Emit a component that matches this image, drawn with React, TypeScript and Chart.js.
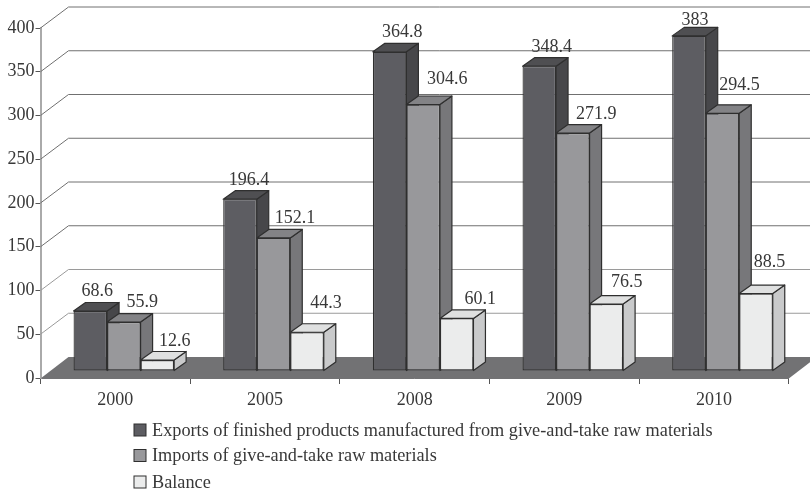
import React, { useEffect, useRef } from "react";
import { Chart, registerables } from "chart.js";

Chart.register(...registerables);

const years = ["2000", "2005", "2008", "2009", "2010"];
const exportsValues = [68.6, 196.4, 364.8, 348.4, 383];
const importsValues = [55.9, 152.1, 304.6, 271.9, 294.5];
const balanceValues = [12.6, 44.3, 60.1, 76.5, 88.5];
const seriesLabels = [
  "Exports of finished products manufactured from give-and-take raw materials",
  "Imports of give-and-take raw materials",
  "Balance",
];
const valueLabels = [
  ["68.6", "196.4", "364.8", "348.4", "383"],
  ["55.9", "152.1", "304.6", "271.9", "294.5"],
  ["12.6", "44.3", "60.1", "76.5", "88.5"],
];

// label nudges relative to the bar top centre (layout, not data)
const labelDx = [
  [7, 9, 12.5, 12.5, 6],
  [18.5, 21.5, 24, 23.5, 17],
  [17.5, 19, 23.5, 20.5, 13.5],
];
const labelDy = [
  [-15, -14, -15, -14.5, -11],
  [-15.5, -15, -20.5, -14, -23],
  [-14, -24, -14.5, -17.5, -27],
];

const FONT = '"Liberation Serif", serif';
const TEXT = "#383838";
const STROKE = "#2f2f2f";
const BAR_SHIFT = { x: 8.5, y: -7 };
const BAR_DEPTH = { x: 12, y: -8.5 };
const WALL = { x: 28, y: -21 };
const FILL = [
  { front: "#5d5d62", side: "#47474a", top: "#4f4f52" },
  { front: "#98989b", side: "#77777a", top: "#838386" },
  { front: "#ebecec", side: "#c9cacb", top: "#dfe0e0" },
];

const scene3d = {
  id: "scene3d",
  beforeDatasetsDraw(chart: any) {
    const { ctx, scales, chartArea } = chart;
    const y = scales.y;
    ctx.save();
    y.ticks.forEach((t: any) => {
      if (t.value === 0) return;
      const py = y.getPixelForValue(t.value);
      ctx.beginPath();
      ctx.moveTo(chartArea.left, py);
      ctx.lineTo(chartArea.left + WALL.x, py + WALL.y);
      ctx.lineTo(chart.width, py + WALL.y);
      ctx.strokeStyle = t.value <= 100 ? "#9a9a9a" : "#707070";
      ctx.lineWidth = 1;
      ctx.stroke();
    });
    const b = y.getPixelForValue(0);
    ctx.beginPath();
    ctx.moveTo(chartArea.left, b + 0.5);
    ctx.lineTo(chartArea.right, b + 0.5);
    ctx.lineTo(chartArea.right + WALL.x, b + WALL.y);
    ctx.lineTo(chartArea.left + WALL.x, b + WALL.y);
    ctx.closePath();
    ctx.fillStyle = "#727274";
    ctx.fill();
    ctx.restore();
  },
  // Chart.js paints datasets last-to-first; the 3D overlap needs first-to-last,
  // so its own pass is cancelled and the controllers are called in order below.
  beforeDatasetDraw() {
    return false;
  },
  afterDatasetsDraw(chart: any) {
    const { ctx } = chart;
    chart.data.datasets.forEach((_: any, i: number) => {
      const meta = chart.getDatasetMeta(i);
      const c = FILL[i];
      ctx.save();
      ctx.translate(BAR_SHIFT.x, BAR_SHIFT.y);
      ctx.strokeStyle = STROKE;
      ctx.lineWidth = 1.2;
      ctx.lineJoin = "round";
      meta.data.forEach((bar: any) => {
        const p = bar.getProps(["x", "y", "base", "width"], true);
        const l = p.x - p.width / 2;
        const r = p.x + p.width / 2;
        ctx.beginPath();
        ctx.moveTo(r, p.y);
        ctx.lineTo(r + BAR_DEPTH.x, p.y + BAR_DEPTH.y);
        ctx.lineTo(r + BAR_DEPTH.x, p.base + BAR_DEPTH.y);
        ctx.lineTo(r, p.base);
        ctx.closePath();
        ctx.fillStyle = c.side;
        ctx.fill();
        ctx.stroke();
        ctx.beginPath();
        ctx.moveTo(l, p.y);
        ctx.lineTo(l + BAR_DEPTH.x, p.y + BAR_DEPTH.y);
        ctx.lineTo(r + BAR_DEPTH.x, p.y + BAR_DEPTH.y);
        ctx.lineTo(r, p.y);
        ctx.closePath();
        ctx.fillStyle = c.top;
        ctx.fill();
        ctx.stroke();
      });
      meta.controller.draw();
      ctx.restore();
    });

    ctx.save();
    ctx.font = `18px ${FONT}`;
    ctx.fillStyle = TEXT;
    ctx.textAlign = "center";
    ctx.textBaseline = "alphabetic";
    chart.data.datasets.forEach((_: any, i: number) => {
      chart.getDatasetMeta(i).data.forEach((bar: any, j: number) => {
        const p = bar.getProps(["x", "y"], true);
        ctx.fillText(
          valueLabels[i][j],
          p.x + BAR_SHIFT.x + labelDx[i][j],
          p.y + BAR_SHIFT.y + labelDy[i][j]
        );
      });
    });
    // legend
    ctx.font = `18.25px ${FONT}`;
    ctx.textAlign = "left";
    ctx.textBaseline = "middle";
    const rows = [430, 455.5, 482];
    seriesLabels.forEach((label, i) => {
      ctx.fillStyle = FILL[i].front;
      ctx.strokeStyle = STROKE;
      ctx.lineWidth = 1;
      ctx.fillRect(134, rows[i] - 6, 12, 12);
      ctx.strokeRect(134, rows[i] - 6, 12, 12);
      ctx.fillStyle = TEXT;
      ctx.fillText(label, 152, rows[i] + 1);
    });
    ctx.restore();
  },
};

export default function App() {
  const ref = useRef<HTMLCanvasElement>(null);
  useEffect(() => {
    const make = (i: number, data: number[]) => ({
      label: seriesLabels[i],
      data,
      backgroundColor: FILL[i].front,
      borderColor: STROKE,
      borderWidth: 1.2,
      borderSkipped: false,
      clip: false as any,
      categoryPercentage: 0.672,
      barPercentage: 1,
    });
    const chart = new Chart(ref.current as HTMLCanvasElement, {
      type: "bar",
      data: {
        labels: years,
        datasets: [make(0, exportsValues), make(1, importsValues), make(2, balanceValues)],
      },
      plugins: [scene3d],
      options: {
        animation: false,
        responsive: false,
        layout: { padding: { top: 28, right: 21.2, left: 0, bottom: 0 } },
        plugins: { legend: { display: false }, tooltip: { enabled: false } },
        scales: {
          x: {
            afterFit: (s: any) => {
              s.height = 112;
            },
            grid: { drawOnChartArea: false, tickLength: 6, color: "#555" },
            border: { color: "#727274", width: 1 },
            ticks: { color: TEXT, font: { family: FONT, size: 18 }, padding: 5, maxRotation: 0 },
          },
          y: {
            min: 0,
            max: 400,
            afterFit: (s: any) => {
              s.width = 40.5;
            },
            grid: { drawOnChartArea: false, tickLength: 5, color: "#555" },
            border: { color: "#aaaaaa", width: 2 },
            ticks: { stepSize: 50, color: TEXT, font: { family: FONT, size: 18 }, padding: 1 },
          },
        },
      },
    });
    return () => chart.destroy();
  }, []);
  return (
    <div style={{ position: "fixed", left: 0, top: 0, width: 810, height: 490, background: "#fff" }}>
      <canvas ref={ref} width={810} height={490} style={{ display: "block" }} />
    </div>
  );
}
